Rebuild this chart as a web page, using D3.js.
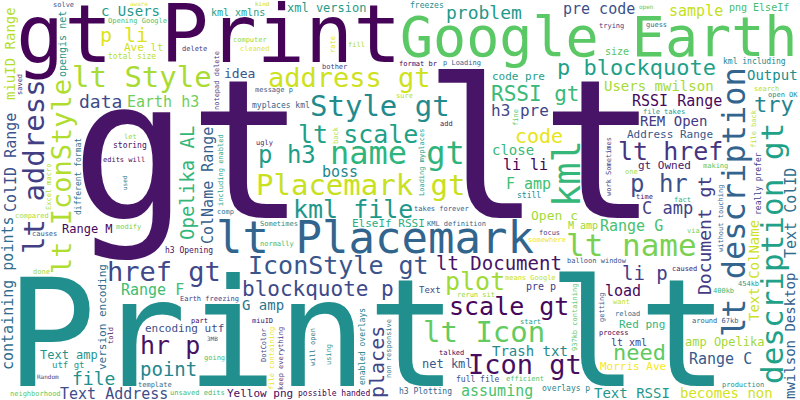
<!DOCTYPE html>
<html>
<head>
<meta charset="utf-8">
<title>word cloud</title>
<style>
  body { margin: 0; background: #fff; }
  svg { display: block; }
</style>
</head>
<body>
<svg id="container" width="800" height="400"></svg>
<script src="https://cdn.jsdelivr.net/npm/d3@7"></script>
<script>
// word frequencies, one array per colour band
const purpleWords = [
  ["gt lt", 195], ["gt Print", 80], ["Icon gt", 28], ["scale gt", 27], ["hr p", 26],
  ["lt Document", 19], ["RSSI Range", 15], ["load", 15], ["li li", 15], ["Range M", 12],
  ["Yellow png", 11], ["gt Owned", 11], ["h3 Opening", 8], ["possible handed", 8], ["storing", 8],
  ["process", 7], ["talked", 7], ["add", 7], ["told", 7], ["saved", 7], ["time", 7], ["ugly", 7],
  ["part", 7], ["edits will", 7], ["miuID", 7], ["caused", 7], ["format br", 7]
]
const indigoWords = [
  ["lt address", 30], ["href gt", 29], ["IconStyle gt", 28], ["lt href", 28], ["p hr", 24],
  ["blockquote p", 21], ["places", 20], ["li p", 19], ["data", 18], ["Document gt", 18],
  ["C amp", 17], ["h3 pre", 16], ["Range C", 15], ["pre code", 15], ["Text Address", 15],
  ["ColID Range", 15], ["REM Open", 14], ["idea", 13], ["net kml", 12], ["Address Range", 11],
  ["encoding utf", 11], ["pre p", 10], ["lt xml", 10], ["Text", 9], ["full file", 8],
  ["really prefer", 8], ["DotColor", 7], ["focus", 7], ["bother", 7], ["message p", 7],
  ["delete", 7], ["getting", 7], ["solve", 7], ["keep everything", 7], ["takes forever", 7],
  ["balloon window", 7], ["work Sometimes", 7], ["notepad delete", 7], ["trying", 7],
  ["causes", 7], ["Earth freezing", 7], ["Random", 6]
]
const blueWords = [
  ["lt Placemark", 44], ["lt description", 32], ["containing points", 15], ["ColName Range", 15],
  ["Text ColID", 15], ["G amp", 14], ["mwilson Desktop", 14], ["version encoding", 11],
  ["different format", 8], ["h3 Plotting", 8], ["myplaces kml", 8], ["will open", 7], ["guess", 7],
  ["comp", 7], ["around 67kb", 7], ["KML definition", 7], ["reload", 7], ["template", 7],
  ["non responsive", 7], ["without touching", 7], ["p Loading", 7], ["used", 6], ["3MB", 6]
]
const tealWords = [
  ["Print lt", 150], ["description gt", 31], ["Style gt", 30], ["lt scale", 28], ["kml file", 26],
  ["p h3", 24], ["p blockquote", 22], ["try", 22], ["point", 19], ["file", 18], ["problem", 18],
  ["boss", 15], ["Trash txt", 14], ["Text RSSI", 14], ["Output", 14], ["c Users", 14],
  ["Text amp", 12], ["xml version", 12], ["code pre", 11], ["opengis net", 10], ["kml xmlns", 10],
  ["utf gt", 9], ["enabled overlays", 8], ["kml including", 8], ["freezes", 8], ["still", 8],
  ["overlays p", 8], ["file takes", 7], ["Sometimes", 7], ["start", 7], ["454kb", 7], ["using", 7],
  ["including enabled", 7], ["Loading myplaces", 7], ["open OK", 7], ["production", 7]
]
const greenWords = [
  ["Google Earth", 57], ["kml", 37], ["name gt", 32], ["lt name", 31], ["lt Icon", 30],
  ["need", 22], ["RSSI gt", 21], ["Opelika AL", 19], ["assuming", 15], ["Earth h3", 15],
  ["F amp", 15], ["Range F", 15], ["Range G", 15], ["close", 14], ["Red png", 11],
  ["ElseIf RSSI", 11], ["png ElseIf", 10], ["size", 10], ["normally", 7], ["efficient", 7],
  ["making", 7], ["fact", 7], ["neighborhood", 7], ["937kb containing", 7], ["via", 7],
  ["modify", 7], ["unsaved edits", 7], ["400kb", 7], ["going", 7], ["fine", 7],
  ["Opening Google", 7], ["open", 6]
]
const yellowWords = [
  ["Placemark gt", 31], ["lt Style", 31], ["lt IconStyle", 30], ["address gt", 29], ["plot", 25],
  ["code", 20], ["p li", 20], ["sample", 15], ["becomes non", 14], ["miuID Range", 14],
  ["Users mwilson", 14], ["Text ColName", 14], ["Open c", 13], ["amp Opelika", 12],
  ["Morris Ave", 11], ["Ave lt", 11], ["M amp", 10], ["total size", 8], ["somewhere", 7],
  ["computer", 7], ["cleaned", 7], ["want", 7], ["file back", 7], ["file containing", 7],
  ["back", 7], ["rerun sit", 7], ["compared", 7], ["search", 7], ["means Google", 7], ["sure", 7],
  ["one", 7], ["fill", 7], ["Excel macro", 7], ["let", 7], ["done", 7], ["rate", 7],
  ["aware", 6], ["kind", 6]
]
// words that read bottom-to-top in the picture
const verticalWords = [
  "lt description", "containing points", "version encoding", "different format", "will open",
  "DotColor", "really prefer", "enabled overlays", "Text ColName", "ColName Range", "lt address",
  "places", "opengis net", "file back", "file containing", "back", "getting", "Excel macro", "kml",
  "Loading myplaces", "fine", "937kb containing", "Document gt", "Opelika AL", "mwilson Desktop",
  "Text ColID", "ColID Range", "non responsive", "without touching", "notepad delete",
  "work Sometimes", "rate", "keep everything", "including enabled", "told", "saved", "using", "used"
]

const W = 800, H = 400, MARGIN = 2, MIN_SIZE = 5
const FONT = "DejaVu Sans Mono"
const SEED = 0.6977

const bands = [
  ["purple", purpleWords], ["indigo", indigoWords], ["blue", blueWords],
  ["teal", tealWords], ["green", greenWords], ["yellow", yellowWords]
]
// viridis interval for each band
const bandTone = d3.scaleOrdinal()
  .domain(bands.map(b => b[0]))
  .range([[0.0, 0.07], [0.15, 0.28], [0.3, 0.42], [0.45, 0.58], [0.63, 0.8], [0.84, 1.0]])

let words = []
bands.forEach(([band, list]) => list.forEach(([text, freq]) => words.push({ text, freq, band })))
words.sort((a, b) => b.freq - a.freq)

const fontScale = d3.scaleLinear()
  .domain([0, d3.max(words, d => d.freq)])
  .range([0, 195])

const colorRand = d3.randomLcg(0.42)
words.forEach(d => {
  const [lo, hi] = bandTone(d.band)
  d.color = d3.interpolateViridis(lo + colorRand() * (hi - lo))
})

const vertical = new Set(verticalWords)
const rand = d3.randomLcg(SEED)

// drawn pixels + summed area table, a word only goes where its box is empty
const canvas = document.createElement("canvas")
canvas.width = W; canvas.height = H
const ctx = canvas.getContext("2d", { willReadFrequently: true })
ctx.fillStyle = "#000"
const occ = new Uint8Array(W * H)
const W1 = W + 1
const sat = new Int32Array(W1 * (H + 1))

function rebuildSat() {
  for (let y = 0; y < H; y++) {
    let row = 0
    for (let x = 0; x < W; x++) {
      row += occ[y * W + x]
      sat[(y + 1) * W1 + x + 1] = sat[y * W1 + x + 1] + row
    }
  }
}

function findSpot(bw, bh) {
  if (bw > W || bh > H) return null
  let hits = 0
  for (let y = 0; y <= H - bh; y++) {
    const a = y * W1, b = (y + bh) * W1
    for (let x = 0; x <= W - bw; x++)
      if (sat[b + x + bw] - sat[a + x + bw] - sat[b + x] + sat[a + x] === 0) hits++
  }
  if (!hits) return null
  let goal = Math.floor(rand() * hits)
  for (let y = 0; y <= H - bh; y++) {
    const a = y * W1, b = (y + bh) * W1
    for (let x = 0; x <= W - bw; x++)
      if (sat[b + x + bw] - sat[a + x + bw] - sat[b + x] + sat[a + x] === 0) {
        if (goal === 0) return [x, y]
        goal--
      }
  }
  return null
}

function measure(text, size) {
  ctx.font = `${size}px "${FONT}"`
  const m = ctx.measureText(text)
  const asc = Math.ceil(m.actualBoundingBoxAscent)
  return {
    asc,
    w: Math.ceil(m.actualBoundingBoxRight),
    h: Math.ceil(asc + Math.max(0, m.actualBoundingBoxDescent))
  }
}

let placed = []
let lastSize = Infinity
words.forEach(d => {
  let size = Math.min(Math.round(fontScale(d.freq)), lastSize)
  const pref = vertical.has(d.text)
  let spot = null, rot = pref, m
  while (size >= MIN_SIZE) {
    m = measure(d.text, size)
    for (const v of [pref, !pref]) {
      spot = findSpot((v ? m.h : m.w) + MARGIN, (v ? m.w : m.h) + MARGIN)
      if (spot) { rot = v; break }
    }
    if (spot) break
    size -= Math.max(1, Math.round(size * 0.03))
  }
  if (!spot) return
  lastSize = size
  const x = spot[0] + MARGIN / 2, y = spot[1] + MARGIN / 2
  ctx.save()
  if (rot) {
    ctx.translate(x + m.asc, y + m.w)
    ctx.rotate(-Math.PI / 2)
    ctx.fillText(d.text, 0, 0)
  } else {
    ctx.fillText(d.text, x, y + m.asc)
  }
  ctx.restore()
  const bw = rot ? m.h : m.w, bh = rot ? m.w : m.h
  const x0 = Math.max(0, Math.floor(x) - 1), y0 = Math.max(0, Math.floor(y) - 1)
  const x1 = Math.min(W, x0 + bw + 3), y1 = Math.min(H, y0 + bh + 3)
  const img = ctx.getImageData(x0, y0, x1 - x0, y1 - y0).data
  for (let yy = y0; yy < y1; yy++)
    for (let xx = x0; xx < x1; xx++)
      if (img[((yy - y0) * (x1 - x0) + (xx - x0)) * 4 + 3] > 0) occ[yy * W + xx] = 1
  rebuildSat()
  placed.push({ text: d.text, size, color: d.color, rot, x, y, asc: m.asc, w: m.w })
})

const container = d3.select("#container")
container.append("rect").attr("width", W).attr("height", H).attr("fill", "#fff")

container.selectAll("text.word")
  .data(placed)
  .join("text")
  .attr("class", "word")
  .attr("font-family", FONT)
  .attr("font-size", d => d.size)
  .attr("fill", d => d.color)
  .attr("transform", d => d.rot
    ? `translate(${d.x + d.asc},${d.y + d.w}) rotate(-90)`
    : `translate(${d.x},${d.y + d.asc})`)
  .text(d => d.text)
</script>
</body>
</html>
